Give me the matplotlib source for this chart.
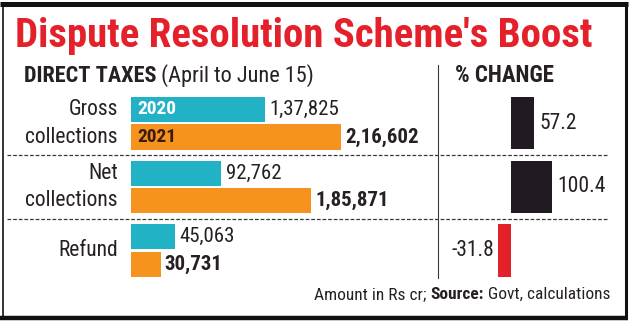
import matplotlib
matplotlib.use('Agg')
import matplotlib.pyplot as plt
from matplotlib import transforms

W, H, DPI = 635, 331, 100

# data
title = "Dispute Resolution Scheme's Boost"
years = ['2020', '2021']
categories = [['Gross', 'collections'], ['Net', 'collections'], ['Refund']]
vals_2020 = [137825, 92762, 45063]
vals_2021 = [216602, 185871, 30731]
labels_2020 = ['1,37,825', '92,762', '45,063']
labels_2021 = ['2,16,602', '1,85,871', '30,731']
pct_change = [57.2, 100.4, -31.8]
pct_labels = ['57.2', '100.4', '-31.8']

CYAN = '#22b2c6'
ORANGE = '#f6921e'
INK = '#262022'
RED = '#e4202b'
BARBLACK = '#221a22'

plt.rcParams['font.family'] = ['Roboto Condensed', 'DejaVu Sans']

fig = plt.figure(figsize=(W / DPI, H / DPI), dpi=DPI)


def px_axes(x0, y0, x1, y1):
    # box given in pixels, origin top-left
    return fig.add_axes([x0 / W, 1 - y1 / H, (x1 - x0) / W, (y1 - y0) / H])


deco = px_axes(0, 0, W, H)
deco.set_xlim(0, W)
deco.set_ylim(H, 0)
deco.axis('off')

# left panel: direct taxes
ax = px_axes(131, 90, 431, 285)
ax.set_facecolor('none')
px_per_unit = 63.6
off = 0.2165
bh = 0.395
ax.set_xlim(0, 300 / 0.97 * 1000)
ax.set_ylim((285 - 123.25) / px_per_unit, (90 - 123.25) / px_per_unit)
ax.axis('off')
ys = list(range(len(vals_2020)))
ax.barh([y - off for y in ys], vals_2020, height=bh, color=CYAN)
ax.barh([y + off for y in ys], vals_2021, height=bh, color=ORANGE)

for i in ys:
    ax.annotate(labels_2020[i], xy=(vals_2020[i], i - off), xytext=(5, 0),
                textcoords='offset pixels', ha='left', va='center',
                fontsize=15, color=INK)
    ax.annotate(labels_2021[i], xy=(vals_2021[i], i + off), xytext=(4, 0),
                textcoords='offset pixels', ha='left', va='center',
                fontsize=15, color=INK, fontweight='bold')
    cat = categories[i]
    if len(cat) == 2:
        spots = [i - off, i + off]
    else:
        spots = [i]
    for txt, y in zip(cat, spots):
        ax.annotate(txt, xy=(0, y), xytext=(-13, 0), textcoords='offset pixels',
                    ha='right', va='center', fontsize=15.5, color=INK)

ax.annotate(years[0], xy=(0, -off), xytext=(6, 0), textcoords='offset pixels',
            ha='left', va='center', fontsize=14, color='white', fontweight='bold')
ax.annotate(years[1], xy=(0, off), xytext=(6, 0), textcoords='offset pixels',
            ha='left', va='center', fontsize=14, color='#3a1c0c', fontweight='bold')

# right panel: % change
ax2 = px_axes(440, 90, 620, 285)
ax2.set_facecolor('none')
ax2.set_xlim(-(511 - 440) / 0.41, (620 - 511) / 0.41)
ax2.set_ylim(ax.get_ylim())
ax2.axis('off')
ax2.barh(ys, pct_change, height=0.82,
         color=[BARBLACK if v >= 0 else RED for v in pct_change])
for i in ys:
    v = pct_change[i]
    ax2.annotate(pct_labels[i], xy=(v, i), xytext=(5 if v >= 0 else -4, 0),
                 textcoords='offset pixels', ha='left' if v >= 0 else 'right',
                 va='center', fontsize=15.5, color=INK)

# separators
blend = transforms.blended_transform_factory(deco.transData, ax.transData)
for y in [0.5, 1.5]:
    deco.plot([7, 608], [y, y], transform=blend, color='#3c3838', lw=0.9,
              dashes=(3, 1.5), clip_on=False)
deco.plot([438, 438], [65, 278], color='#3c3838', lw=0.8)

# frame
deco.plot([0, 628], [3.5, 3.5], color='#111111', lw=3.6, solid_capstyle='butt')
deco.plot([0, 628], [318, 318], color='#111111', lw=3.2, solid_capstyle='butt')
deco.plot([2.5, 2.5], [3, 318], color='#111111', lw=1.2)
deco.plot([626, 626], [3, 318], color='#111111', lw=2.2)

# headings
t = deco.text(15, 47, title, ha='left', va='baseline', fontsize=26,
              fontweight='bold', color=RED)
h1 = deco.text(24, 82, 'DIRECT TAXES', ha='left', va='baseline', fontsize=16,
               fontweight='bold', color=INK)
deco.annotate(' (April to June 15)', xy=(1, 0), xycoords=h1, ha='left',
              va='bottom', fontsize=16, color=INK)
deco.text(455, 82, '% CHANGE', ha='left', va='baseline', fontsize=16.5,
          fontweight='bold', color=INK)

# footnote
f3 = deco.text(610, 299, ' Govt, calculations', ha='right', va='baseline',
               fontsize=12.5, color=INK)
f2 = deco.annotate('Source:', xy=(0, 0), xycoords=f3, ha='right', va='bottom',
                   fontsize=12.5, color=INK, fontweight='bold')
deco.annotate('Amount in Rs cr; ', xy=(0, 0), xycoords=f2, ha='right',
              va='bottom', fontsize=12.5, color=INK)

# stretch the title to the reference width
fig.canvas.draw()
r = fig.canvas.get_renderer()
w = t.get_window_extent(r).width
t.set_fontsize(t.get_fontsize() * 578 / w)

fig.savefig('out.png', dpi=DPI)
